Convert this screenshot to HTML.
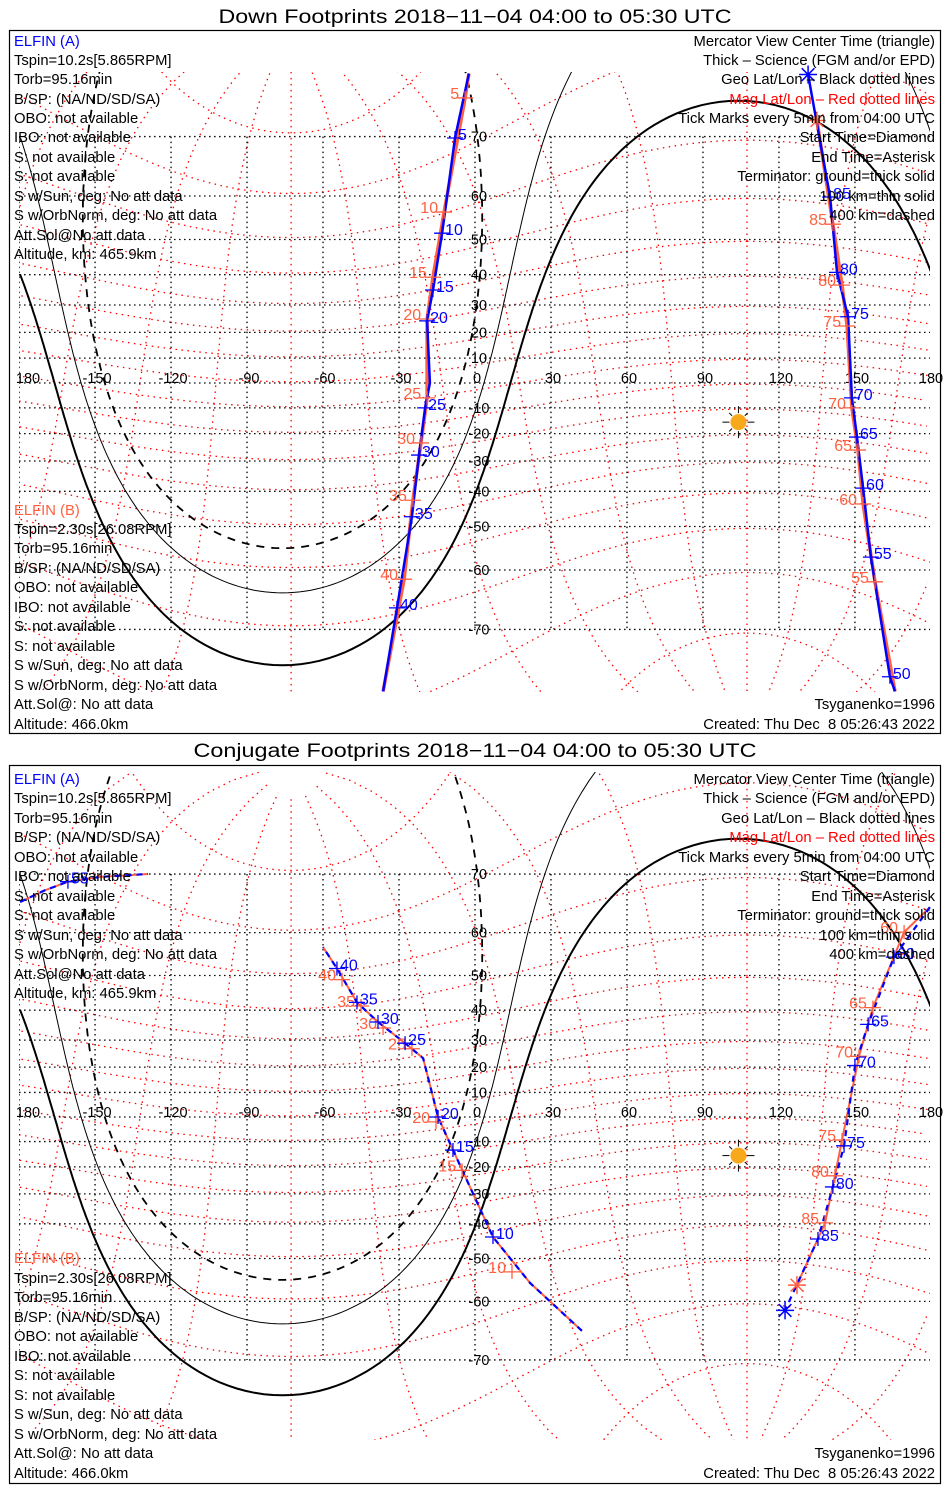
<!DOCTYPE html>
<html><head><meta charset="utf-8"><title>ELFIN Footprints</title>
<style>
html,body{margin:0;padding:0;background:#fff;width:950px;height:1500px;overflow:hidden;}
svg{display:block;font-family:"Liberation Sans",sans-serif;}
.t{font-size:14.8px;fill:#000;}
.r{text-anchor:end;}
</style></head>
<body>
<svg id="chart" width="950" height="1500" viewBox="0 0 950 1500" xmlns="http://www.w3.org/2000/svg">
<defs>
<clipPath id="clip0"><rect x="19" y="72" width="911" height="620"/></clipPath>
<clipPath id="clip1"><rect x="19" y="772" width="911" height="668"/></clipPath>
</defs>
<rect x="0" y="0" width="950" height="1500" fill="#fff"/>
<text x="475" y="23" text-anchor="middle" font-size="19" textLength="513" lengthAdjust="spacingAndGlyphs">Down Footprints 2018−11−04 04:00 to 05:30 UTC</text>
<rect x="9.5" y="30.5" width="931" height="703" fill="none" stroke="#000" stroke-width="1.2"/>
<text x="475" y="757" text-anchor="middle" font-size="19" textLength="563" lengthAdjust="spacingAndGlyphs">Conjugate Footprints 2018−11−04 04:00 to 05:30 UTC</text>
<rect x="9.5" y="765.5" width="931" height="718" fill="none" stroke="#000" stroke-width="1.2"/>
<g id="layer0" clip-path="url(#clip0)"></g>
<g id="layer1" clip-path="url(#clip1)"></g>
<g id="axislabels"></g>
<g id="marks"></g>

<g class="t">
<text x="14" y="46" style="fill:#0000ff">ELFIN (A)</text>
<text x="14" y="65">Tspin=10.2s[5.865RPM]</text>
<text x="14" y="84">Torb=95.16min</text>
<text x="14" y="104">B/SP: (NA/ND/SD/SA)</text>
<text x="14" y="123">OBO: not available</text>
<text x="14" y="142">IBO: not available</text>
<text x="14" y="162">S: not available</text>
<text x="14" y="181">S: not available</text>
<text x="14" y="201">S w/Sun, deg: No att data</text>
<text x="14" y="220">S w/OrbNorm, deg: No att data</text>
<text x="14" y="240">Att.Sol@No att data</text>
<text x="14" y="259">Altitude, km: 465.9km</text>
</g>
<g class="t">
<text x="14" y="515" style="fill:#ff6040">ELFIN (B)</text>
<text x="14" y="534">Tspin=2.30s[26.08RPM]</text>
<text x="14" y="553">Torb=95.16min</text>
<text x="14" y="573">B/SP: (NA/ND/SD/SA)</text>
<text x="14" y="592">OBO: not available</text>
<text x="14" y="612">IBO: not available</text>
<text x="14" y="631">S: not available</text>
<text x="14" y="651">S: not available</text>
<text x="14" y="670">S w/Sun, deg: No att data</text>
<text x="14" y="690">S w/OrbNorm, deg: No att data</text>
<text x="14" y="709">Att.Sol@: No att data</text>
<text x="14" y="729">Altitude: 466.0km</text>
</g>
<g class="t r">
<text x="935" y="46">Mercator View Center Time (triangle)</text>
<text x="935" y="65">Thick – Science (FGM and/or EPD)</text>
<text x="935" y="84">Geo Lat/Lon – Black dotted lines</text>
<text x="935" y="104" style="fill:#ff0000">Mag Lat/Lon – Red dotted lines</text>
<text x="935" y="123">Tick Marks every 5min from 04:00 UTC</text>
<text x="935" y="142">Start Time=Diamond</text>
<text x="935" y="162">End Time=Asterisk</text>
<text x="935" y="181">Terminator: ground=thick solid</text>
<text x="935" y="201">100 km=thin solid</text>
<text x="935" y="220">400 km=dashed</text>
<text x="935" y="709">Tsyganenko=1996</text>
<text x="935" y="729" xml:space="preserve">Created: Thu Dec  8 05:26:43 2022</text>
</g>

<g class="t">
<text x="14" y="784" style="fill:#0000ff">ELFIN (A)</text>
<text x="14" y="803">Tspin=10.2s[5.865RPM]</text>
<text x="14" y="823">Torb=95.16min</text>
<text x="14" y="842">B/SP: (NA/ND/SD/SA)</text>
<text x="14" y="862">OBO: not available</text>
<text x="14" y="881">IBO: not available</text>
<text x="14" y="901">S: not available</text>
<text x="14" y="920">S: not available</text>
<text x="14" y="940">S w/Sun, deg: No att data</text>
<text x="14" y="959">S w/OrbNorm, deg: No att data</text>
<text x="14" y="979">Att.Sol@No att data</text>
<text x="14" y="998">Altitude, km: 465.9km</text>
</g>
<g class="t">
<text x="14" y="1263" style="fill:#ff6040">ELFIN (B)</text>
<text x="14" y="1283">Tspin=2.30s[26.08RPM]</text>
<text x="14" y="1302">Torb=95.16min</text>
<text x="14" y="1322">B/SP: (NA/ND/SD/SA)</text>
<text x="14" y="1341">OBO: not available</text>
<text x="14" y="1361">IBO: not available</text>
<text x="14" y="1380">S: not available</text>
<text x="14" y="1400">S: not available</text>
<text x="14" y="1419">S w/Sun, deg: No att data</text>
<text x="14" y="1439">S w/OrbNorm, deg: No att data</text>
<text x="14" y="1458">Att.Sol@: No att data</text>
<text x="14" y="1478">Altitude: 466.0km</text>
</g>
<g class="t r">
<text x="935" y="784">Mercator View Center Time (triangle)</text>
<text x="935" y="803">Thick – Science (FGM and/or EPD)</text>
<text x="935" y="823">Geo Lat/Lon – Black dotted lines</text>
<text x="935" y="842" style="fill:#ff0000">Mag Lat/Lon – Red dotted lines</text>
<text x="935" y="862">Tick Marks every 5min from 04:00 UTC</text>
<text x="935" y="881">Start Time=Diamond</text>
<text x="935" y="901">End Time=Asterisk</text>
<text x="935" y="920">Terminator: ground=thick solid</text>
<text x="935" y="940">100 km=thin solid</text>
<text x="935" y="959">400 km=dashed</text>
<text x="935" y="1458">Tsyganenko=1996</text>
<text x="935" y="1478" xml:space="preserve">Created: Thu Dec  8 05:26:43 2022</text>
</g>
</svg>
<script>
// ---------- data ----------
const LON_TICKS = [-180,-150,-120,-90,-60,-30,0,30,60,90,120,150,180];
const LON_TICK_LABELS = ["180","-150","-120","-90","-60","-30","0","30","60","90","120","150","180"];
const LAT_TICKS = [70,60,50,40,30,20,10,-10,-20,-30,-40,-50,-60,-70];
const LAT_GRID = [70,60,50,40,30,20,10,0,-10,-20,-30,-40,-50,-60,-70];
const SUBSOLAR_LON = 104;
const SUBSOLAR_LAT = -15.6;
const TERM_RADII = [90, 79.9, 70.9]; // ground, 100 km, 400 km
const MAG_POLE_LAT = 80.5;
const MAG_POLE_LON = -72.6;

// Down footprints, ELFIN A track 1
const D1_PATH_LON = [-2.4,-7.9,-13.0,-16.6,-18.9,-17.8,-19.7,-22.1,-24.9,-30.8,-36.3];
const D1_PATH_LAT = [77.1,69.8,51.6,35.1,24.3,0,-10.0,-27.9,-47.4,-66.8,-77.0];
const D1_BLUE_MIN = [5,10,15,20,25,30,35,40];
const D1_BLUE_LON = [-7.9,-13.0,-16.6,-18.9,-19.7,-22.1,-24.9,-30.8];
const D1_BLUE_LAT = [69.8,51.6,35.1,24.3,-10.0,-27.9,-47.4,-66.8];
const D1_RED_MIN = [5,10,15,20,25,30,35,40];
const D1_RED_LON = [-3.9,-12.2,-16.6,-18.9,-18.9,-21.3,-24.5,-28.0];
const D1_RED_LAT = [74.7,56.6,39.2,25.0,-6.0,-23.5,-42.7,-61.8];
// Down footprints track 2
const D2_BLUE_MIN = [50,55,60,65,70,75,80,85];
const D2_BLUE_LON = [163.8,156.3,153.2,150.8,148.8,147.3,142.9,140.2];
const D2_BLUE_LAT = [-75.6,-57.3,-39.0,-21.3,-6.0,25.8,40.7,59.8];
const D2_BLUE_END = [131.5,77.0];
const D2_RED_MIN = [55,60,65,70,75,80,85];
const D2_RED_LON = [157.9,153.2,151.2,148.8,146.9,144.9,141.3];
const D2_RED_LAT = [-62.3,-43.8,-26.1,-10.0,22.4,36.7,53.8];
const D2_RED_END = [135.0,72.1];
const D2_START = [165.8,-77.0];

// Conjugate footprints track 1
const C1_PATH_LON = [42.2,21.7,7.1,-8.7,-14.6,-16.6,-20.5,-27.6,-38.3,-46.6,-54.5,-60.0];
const C1_PATH_LAT = [-65.5,-56.0,-44.0,-13.4,0,8.2,23.4,28.9,36.2,42.4,51.8,56.9];
const C1_BLUE_MIN = [10,15,20,25,30,35,40];
const C1_BLUE_LON = [7.1,-8.7,-14.6,-27.6,-38.3,-46.6,-54.5];
const C1_BLUE_LAT = [-44.0,-13.4,0,28.9,36.2,42.4,51.8];
const C1_RED_MIN = [10,15,20,25,30,35,40];
const C1_RED_LON = [14.6,-5.1,-15.4,-24.9,-36.3,-45.0,-52.5];
const C1_RED_LAT = [-53.4,-21.3,-2.0,26.9,34.2,41.3,48.9];
const C1B_PATH_LON = [-179.6,-169.8,-160.7,-148.0,-129.1];
const C1B_PATH_LAT = [65.7,67.6,68.9,69.6,70.0];
const C1B_BLUE_MIN = [55];
const C1B_BLUE_LON = [-160.7];
const C1B_BLUE_LAT = [68.9];
// Conjugate footprints track 2
const C2_START = [179.6,64.8];
const C2_BLUE_MIN = [60,65,70,75,80,85];
const C2_BLUE_LON = [165.4,155.2,150.0,145.7,141.3,135.4];
const C2_BLUE_LAT = [54.6,35.4,20.6,-11.7,-27.5,-44.6];
const C2_BLUE_END = [122.4,-61.8];
const C2_RED_MIN = [60,65,70,75,80,85];
const C2_RED_LON = [169.4,157.1,151.6,144.9,142.1,138.2];
const C2_RED_LAT = [60.1,40.8,24.1,-9.4,-23.4,-39.7];
const C2_RED_END = [127.1,-56.5];

// ---------- helpers ----------
const NS = 'http://www.w3.org/2000/svg';
const D2R = Math.PI/180;
const PANELS = [{y0:383,k:142},{y0:1117,k:140}];
const BLUE = '#0000ff', SALMON = '#ff6040';
function xOf(lon){ return 475 + 2.533*lon; }
function yOf(lat,P){ const L=Math.max(-86,Math.min(86,lat))*D2R; return P.y0 - P.k*Math.log(Math.tan(Math.PI/4+L/2)); }
function mk(tag, attrs, parent){ const e=document.createElementNS(NS,tag); for(const a in attrs) e.setAttribute(a,attrs[a]); parent.appendChild(e); return e; }
function pathD(lons,lats,P){
  let d='', px=null;
  for(let i=0;i<lons.length;i++){
    const x=xOf(lons[i]), y=yOf(lats[i],P);
    if(px===null || Math.abs(x-px)>300) d+='M'+x.toFixed(1)+' '+y.toFixed(1); else d+='L'+x.toFixed(1)+' '+y.toFixed(1);
    px=x;
  }
  return d;
}
function norm(l){ while(l>180) l-=360; while(l<-180) l+=360; return l; }
function magToGeo(mlat,mlon){
  const th=(90-MAG_POLE_LAT)*D2R, ph=MAG_POLE_LON*D2R;
  const x=Math.cos(mlat*D2R)*Math.cos(mlon*D2R), y=Math.cos(mlat*D2R)*Math.sin(mlon*D2R), z=Math.sin(mlat*D2R);
  const x1=x*Math.cos(th)+z*Math.sin(th), z1=-x*Math.sin(th)+z*Math.cos(th);
  const X=x1*Math.cos(ph)-y*Math.sin(ph), Y=x1*Math.sin(ph)+y*Math.cos(ph);
  return [Math.atan2(Y,X)/D2R, Math.asin(Math.max(-1,Math.min(1,z1)))/D2R];
}
function circle(clat,clon,r){
  const lons=[],lats=[];
  for(let az=0;az<=360;az+=1){
    const a=az*D2R, c=clat*D2R, rr=r*D2R;
    const la=Math.asin(Math.sin(c)*Math.cos(rr)+Math.cos(c)*Math.sin(rr)*Math.cos(a));
    const lo=clon*D2R+Math.atan2(Math.sin(a)*Math.sin(rr)*Math.cos(c), Math.cos(rr)-Math.sin(c)*Math.sin(la));
    lons.push(norm(lo/D2R)); lats.push(la/D2R);
  }
  return [lons,lats];
}

const axisG = document.getElementById('axislabels');
const marksG = document.getElementById('marks');

function drawPanel(pi){
  const P=PANELS[pi];
  const g=document.getElementById('layer'+pi);
  for(let ml=-80; ml<=80; ml+=10){
    const lo=[],la=[];
    for(let m=-180;m<=180;m+=2){ const q=magToGeo(ml,m); lo.push(q[0]); la.push(q[1]); }
    const p=mk('path',{d:pathD(lo,la,P),fill:'none',stroke:'#ff0000','stroke-width':1.3,'stroke-dasharray':'1.5 4.5'},g);
    
    
  }
  for(let mo=0; mo<360; mo+=30){
    const lo=[],la=[];
    for(let m=-88;m<=88;m+=2){ const q=magToGeo(m,mo); lo.push(q[0]); la.push(q[1]); }
    const p=mk('path',{d:pathD(lo,la,P),fill:'none',stroke:'#ff0000','stroke-width':1.3,'stroke-dasharray':'1.5 4.5'},g);
    
    
  }
  const yTop=yOf(70,P), yBot=yOf(-70,P);
  LAT_GRID.forEach(lat=>{
    const y=yOf(lat,P);
    const l=mk('line',{x1:xOf(-180),x2:xOf(180),y1:y,y2:y,stroke:'#000','stroke-width':1.3,'stroke-dasharray':'1.5 3.5'},g);
    
    
  });
  LON_TICKS.forEach(lon=>{
    const x=xOf(lon);
    const l=mk('line',{x1:x,x2:x,y1:yTop,y2:yBot,stroke:'#000','stroke-width':1.3,'stroke-dasharray':'1.5 3.5'},g);
    
    
  });
  const antiLat=-SUBSOLAR_LAT, antiLon=norm(SUBSOLAR_LON+180);
  TERM_RADII.forEach((r,i)=>{
    const c=circle(antiLat,antiLon,r);
    const attrs={d:pathD(c[0],c[1],P),fill:'none',stroke:'#000','stroke-width':i===0?2:1};
    if(i===2){ attrs['stroke-dasharray']='8 7'; attrs['stroke-width']=1.8; }
    const p=mk('path',attrs,g);
    
    
  });
  const sx=xOf(SUBSOLAR_LON), sy=yOf(SUBSOLAR_LAT,P);
  const sun=mk('g',{},g);
  
  
  for(let a=0;a<360;a+=45){
    const c=Math.cos(a*D2R), s=Math.sin(a*D2R);
    const r2 = (a%90===0)?16:13;
    mk('line',{x1:sx+c*9,y1:sy+s*9,x2:sx+c*r2,y2:sy+s*r2,stroke:'#000','stroke-width':1},sun);
  }
  mk('circle',{cx:sx,cy:sy,r:8,fill:'#f7a81b'},sun);
  LON_TICKS.forEach((lon,i)=>{
    const x = i===0 ? 28 : (i===LON_TICKS.length-1 ? 931 : xOf(lon)+2);
    const t=mk('text',{x:x,y:P.y0,'text-anchor':'middle','font-size':14.5,fill:'#000'},axisG);
    t.textContent=LON_TICK_LABELS[i];
    
    
  });
  LAT_TICKS.forEach(lat=>{
    const t=mk('text',{x:479,y:yOf(lat,P)+5,'text-anchor':'middle','font-size':14.5,fill:'#000'},axisG);
    t.textContent=String(lat);
    
    
  });
}

function line(lons,lats,P,color,w,dash,name){
  const a={d:pathD(lons,lats,P),fill:'none',stroke:color,'stroke-width':w,'stroke-linejoin':'round'};
  if(dash) a['stroke-dasharray']=dash;
  const p=mk('path',a,marksG);
  
  
}
function ticks(mins,lons,lats,P,color,side,name){
  mins.forEach((m,i)=>{
    const x=xOf(lons[i]), y=yOf(lats[i],P);
    const g=mk('g',{},marksG);
    
    
    mk('path',{d:`M${x-8} ${y}H${x+8}M${x} ${y-7}V${y+7}`,stroke:color,'stroke-width':1.3},g);
    if(side==='right'){
      const t=mk('text',{x:x+3,y:y+2,'font-size':16,fill:color},g);
      t.textContent=String(m);
    } else {
      const t=mk('text',{x:x-6,y:y+1,'font-size':16,fill:color,'text-anchor':'end'},g);
      t.textContent=String(m);
    }
  });
}
function asterisk(lon,lat,P,color,name){
  const x=xOf(lon), y=yOf(lat,P);
  let d='';
  for(let a=0;a<180;a+=45){ const c=Math.cos(a*D2R)*9, s=Math.sin(a*D2R)*9; d+=`M${x-c} ${y-s}L${x+c} ${y+s}`; }
  const p=mk('path',{d:d,stroke:color,'stroke-width':1.5},marksG);
  
  
}

drawPanel(0);
drawPanel(1);

const PT=PANELS[0];
line([D1_PATH_LON[0]].concat(D1_RED_LON,[D1_PATH_LON[D1_PATH_LON.length-1]]),[D1_PATH_LAT[0]].concat(D1_RED_LAT,[D1_PATH_LAT[D1_PATH_LAT.length-1]]),PT,SALMON,3.5,null,'down-track1-mag');
line(D1_PATH_LON,D1_PATH_LAT,PT,BLUE,2.5,null,'down-track1-geo');
line([D2_START[0]].concat(D2_RED_LON,[D2_RED_END[0]]),[D2_START[1]].concat(D2_RED_LAT,[D2_RED_END[1]]),PT,SALMON,3.5,null,'down-track2-mag');
line([D2_START[0]].concat(D2_BLUE_LON,[D2_BLUE_END[0]]),[D2_START[1]].concat(D2_BLUE_LAT,[D2_BLUE_END[1]]),PT,BLUE,2.5,null,'down-track2-geo');
ticks(D1_RED_MIN,D1_RED_LON,D1_RED_LAT,PT,SALMON,'left','down-track1-red-tick');
ticks(D1_BLUE_MIN,D1_BLUE_LON,D1_BLUE_LAT,PT,BLUE,'right','down-track1-blue-tick');
ticks(D2_RED_MIN,D2_RED_LON,D2_RED_LAT,PT,SALMON,'left','down-track2-red-tick');
ticks(D2_BLUE_MIN,D2_BLUE_LON,D2_BLUE_LAT,PT,BLUE,'right','down-track2-blue-tick');
asterisk(D2_RED_END[0],D2_RED_END[1],PT,SALMON,'down-end-asterisk-red');
asterisk(D2_BLUE_END[0],D2_BLUE_END[1],PT,BLUE,'down-end-asterisk-blue');

const PB=PANELS[1];
line(C1_PATH_LON,C1_PATH_LAT,PB,SALMON,2,null,'conj-track1-mag');
line(C1_PATH_LON,C1_PATH_LAT,PB,BLUE,2.2,'6 5','conj-track1-geo');
line(C1B_PATH_LON,C1B_PATH_LAT,PB,SALMON,2,null,'conj-track1b-mag');
line(C1B_PATH_LON,C1B_PATH_LAT,PB,BLUE,2.2,'6 5','conj-track1b-geo');
line([C2_START[0]].concat(C2_RED_LON,[C2_RED_END[0]]),[C2_START[1]].concat(C2_RED_LAT,[C2_RED_END[1]]),PB,SALMON,2,null,'conj-track2-mag');
line([C2_START[0]].concat(C2_BLUE_LON,[C2_BLUE_END[0]]),[C2_START[1]].concat(C2_BLUE_LAT,[C2_BLUE_END[1]]),PB,BLUE,2.2,'6 5','conj-track2-geo');
ticks(C1_RED_MIN,C1_RED_LON,C1_RED_LAT,PB,SALMON,'left','conj-track1-red-tick');
ticks(C1_BLUE_MIN,C1_BLUE_LON,C1_BLUE_LAT,PB,BLUE,'right','conj-track1-blue-tick');
ticks(C1B_BLUE_MIN,C1B_BLUE_LON,C1B_BLUE_LAT,PB,BLUE,'right','conj-track1b-blue-tick');
ticks(C2_RED_MIN,C2_RED_LON,C2_RED_LAT,PB,SALMON,'left','conj-track2-red-tick');
ticks(C2_BLUE_MIN,C2_BLUE_LON,C2_BLUE_LAT,PB,BLUE,'right','conj-track2-blue-tick');
asterisk(C2_RED_END[0],C2_RED_END[1],PB,SALMON,'conj-end-asterisk-red');
asterisk(C2_BLUE_END[0],C2_BLUE_END[1],PB,BLUE,'conj-end-asterisk-blue');
</script>
</body></html>
